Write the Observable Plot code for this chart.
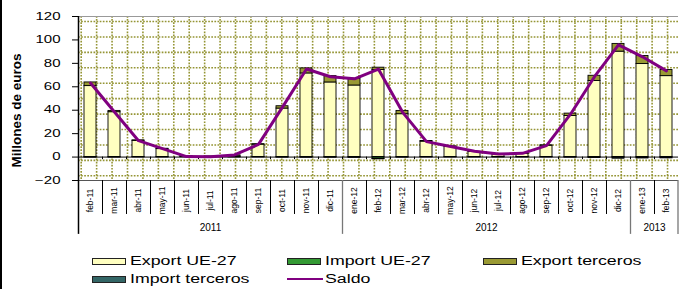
<!DOCTYPE html>
<html>
<head>
<meta charset="utf-8">
<script src="https://cdn.jsdelivr.net/npm/d3@7"></script>
<script src="https://cdn.jsdelivr.net/npm/@observablehq/plot@0.6"></script>
<style>
  html, body { margin: 0; padding: 0; background: #fff; }
  #wrap { position: relative; width: 680px; height: 289px; overflow: hidden; font-family: "Liberation Sans", Arial, sans-serif; }
  #border { position: absolute; left: 0; top: 0; width: 1.5px; height: 289px; background: #000; z-index: 5; }
  .lg { position: absolute; font-size: 12px; line-height: 12px; color: #000; transform-origin: left center; transform: scaleX(1.48); white-space: nowrap; }
  .sw { position: absolute; box-sizing: border-box; height: 7px; border: 1px solid #222; }
  .ln { position: absolute; height: 2px; background: #800080; }
</style>
</head>
<body>
<div id="wrap"><div id="border"></div></div>
<script>
const months = ["feb-11","mar-11","abr-11","may-11","jun-11","jul-11","ago-11","sep-11","oct-11","nov-11","dic-11",
                "ene-12","feb-12","mar-12","abr-12","may-12","jun-12","jul-12","ago-12","sep-12","oct-12","nov-12","dic-12",
                "ene-13","feb-13"];
const exportUE27     = [60.6, 38.3, 13.8, 6.8, 0.6, 0.3, 1.2, 10.6, 41.4, 71.4, 63.7, 61.1, 74.3, 36.6, 13.2, 8.8, 4.3, 2.3, 2.9, 9.7, 35.1, 64.9, 90.0, 79.4, 69.1];
const importUE27     = [-0.2, -0.2, -0.1, -0.1, -0.1, -0.1, -0.1, -0.1, -0.2, -0.2, -0.2, -0.3, -1.6, -0.2, -0.1, -0.1, -0.1, -0.1, -0.1, -0.1, -0.2, -0.3, -0.4, -0.4, -0.3];
const exportTerceros = [3.1, 1.1, 0.5, 0.3, 0.1, 0.1, 0.2, 0.4, 2.0, 4.3, 5.4, 5.8, 2.0, 2.8, 0.5, 0.3, 0.2, 0.1, 0.1, 0.3, 2.0, 4.5, 6.6, 6.9, 5.2];
const importTerceros = [-0.2, -0.1, -0.1, -0.1, 0, 0, -0.1, -0.1, -0.2, -0.3, -0.3, -0.3, -0.3, -0.2, -0.1, -0.1, -0.1, -0.1, -0.1, -0.1, -0.2, -0.5, -1.0, -0.8, -0.8];
const saldo          = [63.2, 38.5, 14.0, 7.2, 0.4, 0.2, 1.8, 10.8, 42.6, 75.2, 68.6, 66.8, 75.0, 38.4, 13.2, 9.0, 5.0, 2.6, 3.2, 9.8, 36.6, 68.6, 95.8, 85.6, 73.6];
const yTicks = [-20, 0, 20, 40, 60, 80, 100, 120];
const seriesNames = ["Export UE-27", "Import UE-27", "Export terceros", "Import terceros"];
const seriesColors = ["#ffffc0", "#339933", "#999933", "#336666"];
const saldoName = "Saldo";
const saldoColor = "#800080";
const yTitle = "Millones de euros";

const seriesValues = [exportUE27, importUE27, exportTerceros, importTerceros];
const rows = [];
months.forEach((m, i) => seriesNames.forEach((s, k) => rows.push({month: m, series: s, value: seriesValues[k][i]})));
const saldoRows = months.map((m, i) => ({month: m, value: saldo[i]}));
const yearOf = m => "20" + m.slice(-2);
const years = Array.from(new Set(months.map(yearOf)));
const yearStarts = months.filter((m, i) => i > 0 && yearOf(m) !== yearOf(months[i - 1]));

const W = 680, H = 240, mL = 78, mR = 2, mT = 16, mB = 60;
const yMin = -20, yMax = 120;
const step = (W - mL - mR) / months.length, half = step / 2;
const pxPerUnit = (H - mT - mB) / (yMax - yMin);

const yearMarks = years.map(y => {
  const idx = months.map((m, i) => [m, i]).filter(([m]) => yearOf(m) === y).map(d => d[1]);
  const c = (idx[0] + idx[idx.length - 1]) / 2;
  const isInt = Number.isInteger(c);
  return Plot.text([y], {x: () => months[Math.floor(c)], y: yMin, dy: 47, dx: isInt ? 0 : half,
    fontSize: 10, fill: "#000", textAnchor: "middle", ariaLabel: "year-label"});
});

// dotted background pattern of the plot area (decoration with its own spacing, not tied to the ticks)
const gridGap = 15.43;
const gridStyle = {stroke: "#959535", strokeWidth: 1.6, strokeDasharray: "1.7,1.4"};
const hGrid = [];
for (let p = 5; p < H - mT - mB; p += gridGap) hGrid.push(yMax - p / pxPerUnit);
const vGridMarks = [];
for (let p = 2.7; p < W - mL - mR; p += gridGap) {
  const j = Math.min(months.length - 1, Math.floor(p / step));
  vGridMarks.push(Plot.ruleX([months[j]], {x: d => d, y1: yMax, y2: yMin, dx: p - (j * step + half), ...gridStyle}));
}

const chart = Plot.plot({
  width: W, height: H,
  marginLeft: mL, marginRight: mR, marginTop: mT, marginBottom: mB,
  style: {fontFamily: "'Liberation Sans', Arial, sans-serif", background: "white", overflow: "visible"},
  x: {domain: months, paddingInner: 0.52, paddingOuter: 0.26, axis: null},
  y: {domain: [yMin, yMax], axis: null},
  color: {domain: seriesNames, range: seriesColors},
  marks: [
    Plot.ruleY(hGrid, {...gridStyle}),
    ...vGridMarks,
    Plot.ruleY([yMax], {stroke: "#999", strokeWidth: 1}),
    Plot.ruleY([yMin], {stroke: "#555", strokeWidth: 1}),
    Plot.barY(rows, {x: "month", y: "value", fill: "series", stroke: "#000", strokeWidth: 0.9}),
    Plot.ruleY([0], {stroke: "#000", strokeWidth: 1}),
    Plot.ruleX(months, {x: d => d, y1: 0, y2: -2.2, dx: -half, stroke: "#000"}),
    Plot.line(saldoRows, {x: "month", y: "value", stroke: saldoColor, strokeWidth: 3, strokeLinejoin: "round"}),
    Plot.axisY(yTicks, {tickSize: 6, tickPadding: 12, fontSize: 10, stroke: "#000", strokeWidth: 1, fill: "#000", label: null}),
    Plot.ruleX(months.slice(1).filter(m => !yearStarts.includes(m)), {x: d => d, y1: yMin, y2: -49, dx: -half, stroke: "#000"}),
    Plot.ruleX(yearStarts, {x: d => d, y1: yMin, y2: -66, dx: -half, stroke: "#777", strokeWidth: 1.3}),
    Plot.ruleX([months[months.length - 1]], {x: d => d, y1: yMin, y2: -66, dx: half - 0.5, stroke: "#777", strokeWidth: 1.3}),
    Plot.ruleX([months[0]], {x: d => d, y1: yMax, y2: -66, dx: -half, stroke: "#000", strokeWidth: 1.5}),
    Plot.text(months, {x: d => d, y: yMin, dy: 20, rotate: -90, fontSize: 8.5, textAnchor: "middle", fill: "#000"}),
    ...yearMarks,
    Plot.text([yTitle], {frameAnchor: "left", textAnchor: "middle", dx: -62, dy: 12, rotate: -90, fontSize: 13.5, fontWeight: "bold", fill: "#000", letterSpacing: "-0.2px"})
  ]
});

const wrap = document.getElementById("wrap");
chart.style.position = "absolute";
chart.style.left = "0px";
chart.style.top = "0px";
wrap.insertBefore(chart, wrap.firstChild);
const svg = chart.tagName.toLowerCase() === "svg" ? chart : chart.querySelector("svg");

function stretch(sel, k) {
  svg.querySelectorAll(sel).forEach(t => {
    const w = t.getComputedTextLength();
    t.setAttribute("textLength", (w * k).toFixed(2));
    t.setAttribute("lengthAdjust", "spacingAndGlyphs");
  });
}
stretch('g[aria-label="y-axis tick label"] text', 1.5);
stretch('g[aria-label="year-label"] text', 1.28);

const legendItems = [
  {name: seriesNames[0], color: seriesColors[0], type: "box", col: 0, row: 0},
  {name: seriesNames[1], color: seriesColors[1], type: "box", col: 1, row: 0},
  {name: seriesNames[2], color: seriesColors[2], type: "box", col: 2, row: 0},
  {name: seriesNames[3], color: seriesColors[3], type: "box", col: 0, row: 1},
  {name: saldoName, color: saldoColor, type: "line", col: 1, row: 1}
];
const colX = [92, 287, 483];
const rowY = [261, 279];
legendItems.forEach(it => {
  const x = colX[it.col], yc = rowY[it.row];
  const s = document.createElement("div");
  if (it.type === "box") {
    s.className = "sw";
    s.style.left = x + "px"; s.style.top = (yc - 3.5) + "px"; s.style.width = "34px";
  } else {
    s.className = "ln";
    s.style.left = x + "px"; s.style.top = (yc - 1) + "px"; s.style.width = "36px";
  }
  s.style.background = it.color;
  wrap.appendChild(s);
  const t = document.createElement("div");
  t.className = "lg";
  t.textContent = it.name;
  t.style.left = (x + 38) + "px";
  t.style.top = (yc - 6) + "px";
  wrap.appendChild(t);
});
</script>
</body>
</html>
